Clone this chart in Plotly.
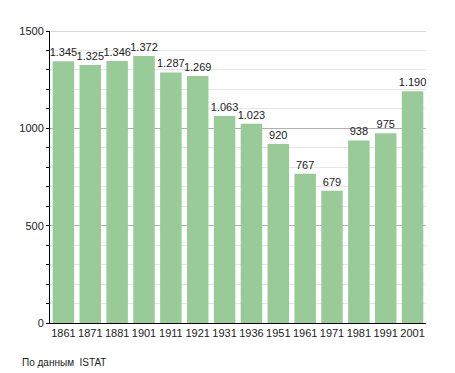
import plotly.graph_objects as go

years = ["1861", "1871", "1881", "1901", "1911", "1921", "1931", "1936", "1951", "1961", "1971", "1981", "1991", "2001"]
population = [1345, 1325, 1346, 1372, 1287, 1269, 1063, 1023, 920, 767, 679, 938, 975, 1190]
labels = [f"{v:,}".replace(",", ".") for v in population]

fig = go.Figure(go.Bar(
    x=years, y=population, text=labels, textposition="outside",
    constraintext="none",
    textfont=dict(size=11, color="#222", family="Liberation Sans, Arial"),
    marker=dict(color="#99cb99", line=dict(width=0)),
    cliponaxis=False,
))

fig.update_layout(
    width=447, height=365,
    margin=dict(l=42, r=29, t=23, b=50),
    paper_bgcolor="white", plot_bgcolor="white",
    bargap=0.2, showlegend=False,
    font=dict(family="Liberation Sans, Arial", size=11, color="#222"),
    xaxis=dict(type="category", showline=True, linecolor="black", linewidth=1,
               ticks="", tickfont=dict(size=11), showgrid=False),
    yaxis=dict(range=[0, 1500], tickvals=[0, 500, 1000, 1500], showline=True,
               linecolor="black", linewidth=1, ticks="outside", ticklen=3,
               tickcolor="black", showgrid=True, gridcolor="#b0b0b0", gridwidth=1,
               zeroline=False, tickfont=dict(size=11),
               minor=dict(dtick=100, showgrid=True, gridcolor="#e6e6e6",
                          ticks="outside", ticklen=3, tickcolor="black")),
    shapes=[dict(type="line", xref="paper", yref="y", x0=0, x1=1, y0=1500, y1=1500,
                 line=dict(color="#b0b0b0", width=1), layer="below")],
    annotations=[dict(text="По данным  ISTAT", xref="paper", yref="paper",
                      x=-30/376, y=-39/292,
                      xanchor="left", yanchor="middle", showarrow=False,
                      font=dict(size=10, color="#222"))],
)
fig.write_html("out.html")
